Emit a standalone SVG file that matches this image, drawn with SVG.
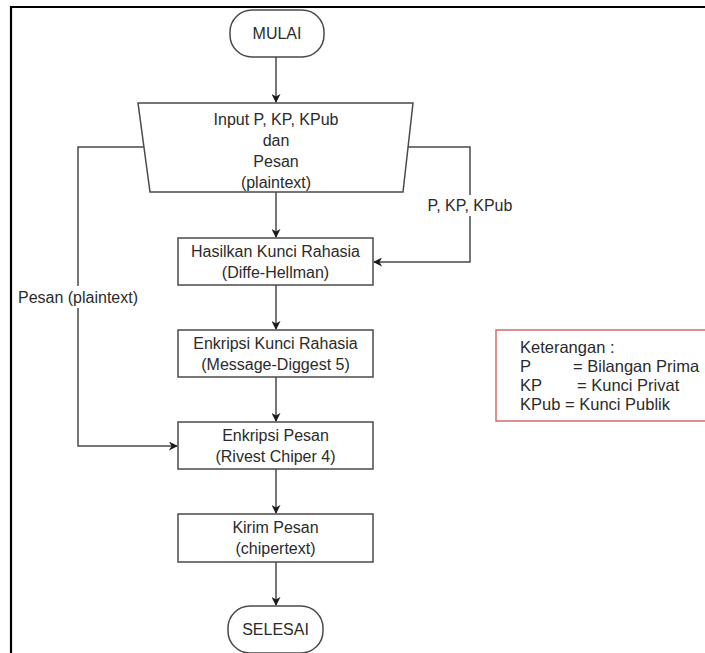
<svg xmlns="http://www.w3.org/2000/svg" width="705" height="653" viewBox="0 0 705 653">
<style>
  .shape { fill: #ffffff; stroke: #4a4a4a; stroke-width: 1.5; }
  .t { font-family: "Liberation Sans", Arial, sans-serif; font-size: 16px; fill: #2b2b2b; text-anchor: middle; dominant-baseline: central; }
  .tl { font-family: "Liberation Sans", Arial, sans-serif; font-size: 16.5px; fill: #2b2b2b; dominant-baseline: central; }
  .edge { fill: none; stroke: #4a4a4a; stroke-width: 1.5; }
  .lbl { fill: #ffffff; stroke: none; }
</style>
<defs>
  <marker id="arr" viewBox="0 0 10 10" refX="9" refY="5" markerWidth="9" markerHeight="9" markerUnits="userSpaceOnUse" orient="auto">
    <path d="M0,0 L10,5 L0,10 L3,5 z" fill="#1a1a1a"/>
  </marker>
</defs>
<rect width="705" height="653" fill="#ffffff"/>
<g id="frame">
  <path d="M11,653 V7 H705" fill="none" stroke="#000000" stroke-width="2.2"/>
</g>
<g id="connectors">
  <path class="edge" d="M276,57 V102" marker-end="url(#arr)"/>
  <path class="edge" d="M276,192 V237" marker-end="url(#arr)"/>
  <path class="edge" d="M276,285 V329" marker-end="url(#arr)"/>
  <path class="edge" d="M276,377 V421" marker-end="url(#arr)"/>
  <path class="edge" d="M276,469 V513" marker-end="url(#arr)"/>
  <path class="edge" d="M276,562 V605" marker-end="url(#arr)"/>
  <path class="edge" d="M144,147 H78 V446 H177" marker-end="url(#arr)"/>
  <path class="edge" d="M408,147 H470 V262 H374" marker-end="url(#arr)"/>
  <rect class="lbl" x="16" y="286" width="124" height="22"/>
  <text class="t" x="78" y="297">Pesan (plaintext)</text>
  <rect class="lbl" x="425" y="195" width="90" height="21"/>
  <text class="t" x="470" y="205">P, KP, KPub</text>
</g>
<g id="mulai">
  <rect class="shape" x="230" y="10" width="94" height="47" rx="22" ry="22"/>
  <text class="t" x="277" y="33.5">MULAI</text>
</g>
<g id="input">
  <polygon class="shape" points="138,103 413,103 403,192 150,192"/>
  <text class="t" x="276" y="119">Input P, KP, KPub</text>
  <text class="t" x="276" y="140">dan</text>
  <text class="t" x="276" y="161">Pesan</text>
  <text class="t" x="276" y="182">(plaintext)</text>
</g>
<g id="hasilkan">
  <rect class="shape" x="178" y="238" width="195" height="47"/>
  <text class="t" x="275.5" y="251">Hasilkan Kunci Rahasia</text>
  <text class="t" x="275.5" y="272.5">(Diffe-Hellman)</text>
</g>
<g id="enkripsi-kunci">
  <rect class="shape" x="178" y="330" width="195" height="47"/>
  <text class="t" x="275.5" y="343">Enkripsi Kunci Rahasia</text>
  <text class="t" x="275.5" y="364.5">(Message-Diggest 5)</text>
</g>
<g id="enkripsi-pesan">
  <rect class="shape" x="178" y="422" width="195" height="47"/>
  <text class="t" x="275.5" y="435">Enkripsi Pesan</text>
  <text class="t" x="275.5" y="456.5">(Rivest Chiper 4)</text>
</g>
<g id="kirim">
  <rect class="shape" x="178" y="514" width="195" height="48"/>
  <text class="t" x="275.5" y="527">Kirim Pesan</text>
  <text class="t" x="275.5" y="548.5">(chipertext)</text>
</g>
<g id="selesai">
  <rect class="shape" x="228" y="606" width="95" height="47" rx="22" ry="22"/>
  <text class="t" x="275.5" y="629.5">SELESAI</text>
</g>
<g id="legend">
  <rect x="496" y="330" width="216" height="91" fill="#ffffff" stroke="#d26b6e" stroke-width="1.5"/>
  <text class="tl" x="520" y="347">Keterangan :</text>
  <text class="tl" x="520" y="366">P</text>
  <text class="tl" x="573" y="366">= Bilangan Prima</text>
  <text class="tl" x="520" y="385">KP</text>
  <text class="tl" x="577" y="385">= Kunci Privat</text>
  <text class="tl" x="520" y="404">KPub</text>
  <text class="tl" x="565" y="404">= Kunci Publik</text>
</g>
</svg>
